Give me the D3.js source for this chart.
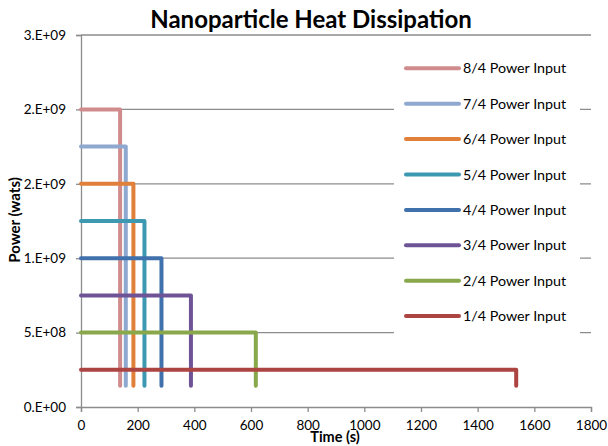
<!DOCTYPE html>
<html>
<head>
<meta charset="utf-8">
<script src="https://cdn.jsdelivr.net/npm/d3@7"></script>
<style>
  body { margin: 0; background: #fff; }
  text { font-family: Lato, "Open Sans", sans-serif; fill: #000; }
</style>
</head>
<body>
<div id="chart"></div>
<script>
// data
var seriesNames = ["8/4 Power Input", "7/4 Power Input", "6/4 Power Input", "5/4 Power Input",
                   "4/4 Power Input", "3/4 Power Input", "2/4 Power Input", "1/4 Power Input"];
var powerLevels = [2.0e9, 1.75e9, 1.5e9, 1.25e9, 1.0e9, 7.5e8, 5.0e8, 2.5e8];
var endTimes = [138, 158, 185, 224, 284, 388, 617, 1536];
var dropLevel = 1.42e8;
var seriesColors = ["#D08C8C", "#8EA8CF", "#E0803A", "#3D98B2", "#4071AC", "#6E5496", "#89A84B", "#AC4442"];
var xTicks = [0, 200, 400, 600, 800, 1000, 1200, 1400, 1600, 1800];
var yTicks = [0, 5e8, 1e9, 1.5e9, 2e9, 2.5e9];
var yTickLabels = ["0.E+00", "5.E+08", "1.E+09", "2.E+09", "2.E+09", "3.E+09"];

var W = 608, H = 446;
var margin = {top: 35, right: 17, bottom: 39, left: 81},
    width = W - margin.left - margin.right,
    height = H - margin.top - margin.bottom;

var svg = d3.select("#chart")
  .append("svg")
    .attr("width", W)
    .attr("height", H);

var g = svg.append("g")
    .attr("transform", "translate(" + margin.left + "," + margin.top + ")");

var x = d3.scaleLinear().domain([0, 1800]).range([0, width]);
var y = d3.scaleLinear().domain([0, 2.5e9]).range([height, 0]);

// gridlines
g.selectAll(".grid")
  .data(yTicks.slice(1))
  .enter()
  .append("line")
    .attr("x1", 0)
    .attr("x2", width)
    .attr("y1", function(d) { return y(d); })
    .attr("y2", function(d) { return y(d); })
    .attr("stroke", "#8c8c8c")
    .attr("stroke-width", 1.3);

// Y axis
var yAxis = g.append("g")
  .call(d3.axisLeft(y).tickValues(yTicks).tickSize(5).tickPadding(10)
    .tickFormat(function(d, i) { return yTickLabels[i]; }));
yAxis.selectAll("text").style("font-size", "13.5px");

// X axis
var xAxis = g.append("g")
  .attr("transform", "translate(0," + height + ")")
  .call(d3.axisBottom(x).tickValues(xTicks).tickSize(5).tickPadding(8).tickFormat(d3.format("d")));
xAxis.selectAll("text").style("font-size", "13.5px");

svg.selectAll(".domain, .tick line").attr("stroke", "#8c8c8c").attr("stroke-width", 1.3);

// series lines
var line = d3.line()
  .x(function(d) { return x(d[0]); })
  .y(function(d) { return y(d[1]); });

var seriesData = seriesNames.map(function(name, i) {
  return {
    name: name,
    color: seriesColors[i],
    points: [[0, powerLevels[i]], [endTimes[i], powerLevels[i]], [endTimes[i], dropLevel]]
  };
});

g.selectAll(".series")
  .data(seriesData)
  .enter()
  .append("path")
    .attr("d", function(d) { return line(d.points); })
    .attr("fill", "none")
    .attr("stroke", function(d) { return d.color; })
    .attr("stroke-width", 4)
    .attr("stroke-linejoin", "round")
    .attr("stroke-linecap", "round");

// legend
var legend = svg.append("g");
legend.append("rect")
  .attr("x", 394)
  .attr("y", 50)
  .attr("width", 186)
  .attr("height", 285)
  .attr("fill", "#fff");

var rows = legend.selectAll(".row")
  .data(seriesData)
  .enter()
  .append("g")
    .attr("transform", function(d, i) { return "translate(0," + (68.3 + i * 35.4) + ")"; });

rows.append("line")
  .attr("x1", 406)
  .attr("x2", 459)
  .attr("stroke", function(d) { return d.color; })
  .attr("stroke-width", 4)
  .attr("stroke-linecap", "round");

rows.append("text")
  .attr("x", 463)
  .attr("dy", "0.35em")
  .style("font-size", "14.3px")
  .text(function(d) { return d.name; });

// titles
svg.append("text")
  .attr("x", 311)
  .attr("y", 28)
  .attr("text-anchor", "middle")
  .style("font-size", "24px")
  .style("font-weight", "bold")
  .text("Nanoparticle Heat Dissipation");

svg.append("text")
  .attr("x", 335)
  .attr("y", 442)
  .attr("text-anchor", "middle")
  .style("font-size", "14.5px")
  .style("font-weight", "bold")
  .text("Time (s)");

svg.append("text")
  .attr("transform", "translate(20,220)rotate(-90)")
  .attr("text-anchor", "middle")
  .style("font-size", "15px")
  .style("font-weight", "bold")
  .text("Power (wats)");
</script>
</body>
</html>
